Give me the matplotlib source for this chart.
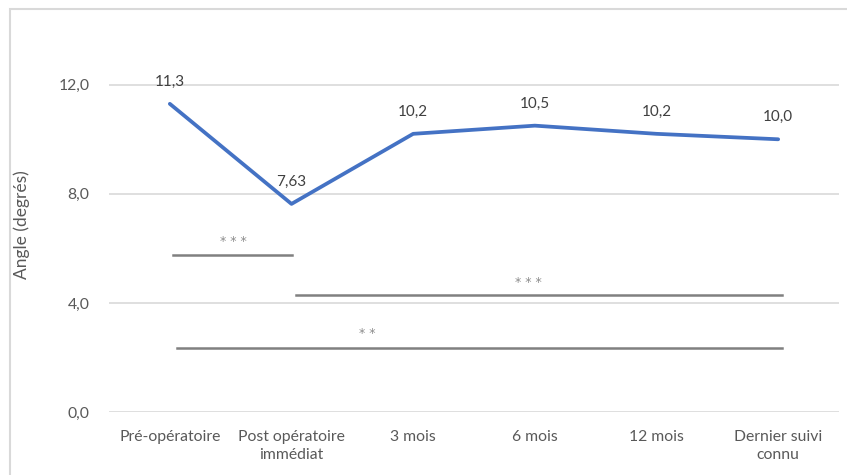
import matplotlib.pyplot as plt
from matplotlib.patches import Rectangle


categories = ['Pré-opératoire', 'Post opératoire\nimmédiat', '3 mois', '6 mois', '12 mois', 'Dernier suivi\nconnu']
angles = [11.3, 7.63, 10.2, 10.5, 10.2, 10.0]
angle_labels = ['11,3', '7,63', '10,2', '10,5', '10,2', '10,0']

y_ticks = [0, 4, 8, 12]
y_tick_labels = ['0,0', '4,0', '8,0', '12,0']

# significance bars: (x start, x end, y, stars, star x, star y)
sig_bars = [
    (0.03, 1.0, 5.75, '* * *', 0.52, 6.25),
    (1.04, 5.03, 4.29, '* * *', 2.95, 4.75),
    (0.055, 5.03, 2.36, '* *', 1.62, 2.87),
]

plt.rcParams['font.family'] = ['Lato', 'DejaVu Sans']

fig = plt.figure(figsize=(8.47, 4.75), dpi=100)
fig.patches.append(Rectangle((10 / 847, -0.1), 1.2, 1.1 - 9 / 475, transform=fig.transFigure,
                             fill=False, edgecolor='#d9d9d9', linewidth=1.5))

ax = fig.add_axes([109 / 847, 1 - 412 / 475, 730 / 847, 0.8038])
x = list(range(len(categories)))

ax.plot(x, angles, color='#4472C4', linewidth=2.7, solid_capstyle='round', zorder=3)
for xi, yi, lab in zip(x, angles, angle_labels):
    ax.annotate(lab, (xi, yi), xytext=(0, 16), textcoords='offset points',
                ha='center', va='center', fontsize=11, color='#404040')

for x0, x1, y, stars, sx, sy in sig_bars:
    ax.plot([x0, x1], [y, y], color='#808080', linewidth=1.8, zorder=2)
    ax.text(sx, sy, stars, ha='center', va='center', fontsize=9, color='#8c8c8c',
            family='DejaVu Sans')

ax.set_xlim(-0.5, 5.5)
ax.set_ylim(0, 14)
ax.set_yticks(y_ticks)
ax.set_yticklabels(y_tick_labels)
ax.set_xticks(x)
ax.set_xticklabels(categories, linespacing=1.35)
ax.tick_params(length=0, labelsize=11.3, labelcolor='#595959')
ax.tick_params(axis='y', pad=14)
ax.tick_params(axis='x', pad=13)
ax.grid(axis='y', color='#d9d9d9', linewidth=1.2)
ax.set_axisbelow(True)
for s in ax.spines.values():
    s.set_visible(False)
ax.set_ylabel('Angle (degrés)', fontsize=12.5, color='#595959')
ax.yaxis.set_label_coords(-0.108, 0.49)

fig.savefig('out.png', dpi=100)
